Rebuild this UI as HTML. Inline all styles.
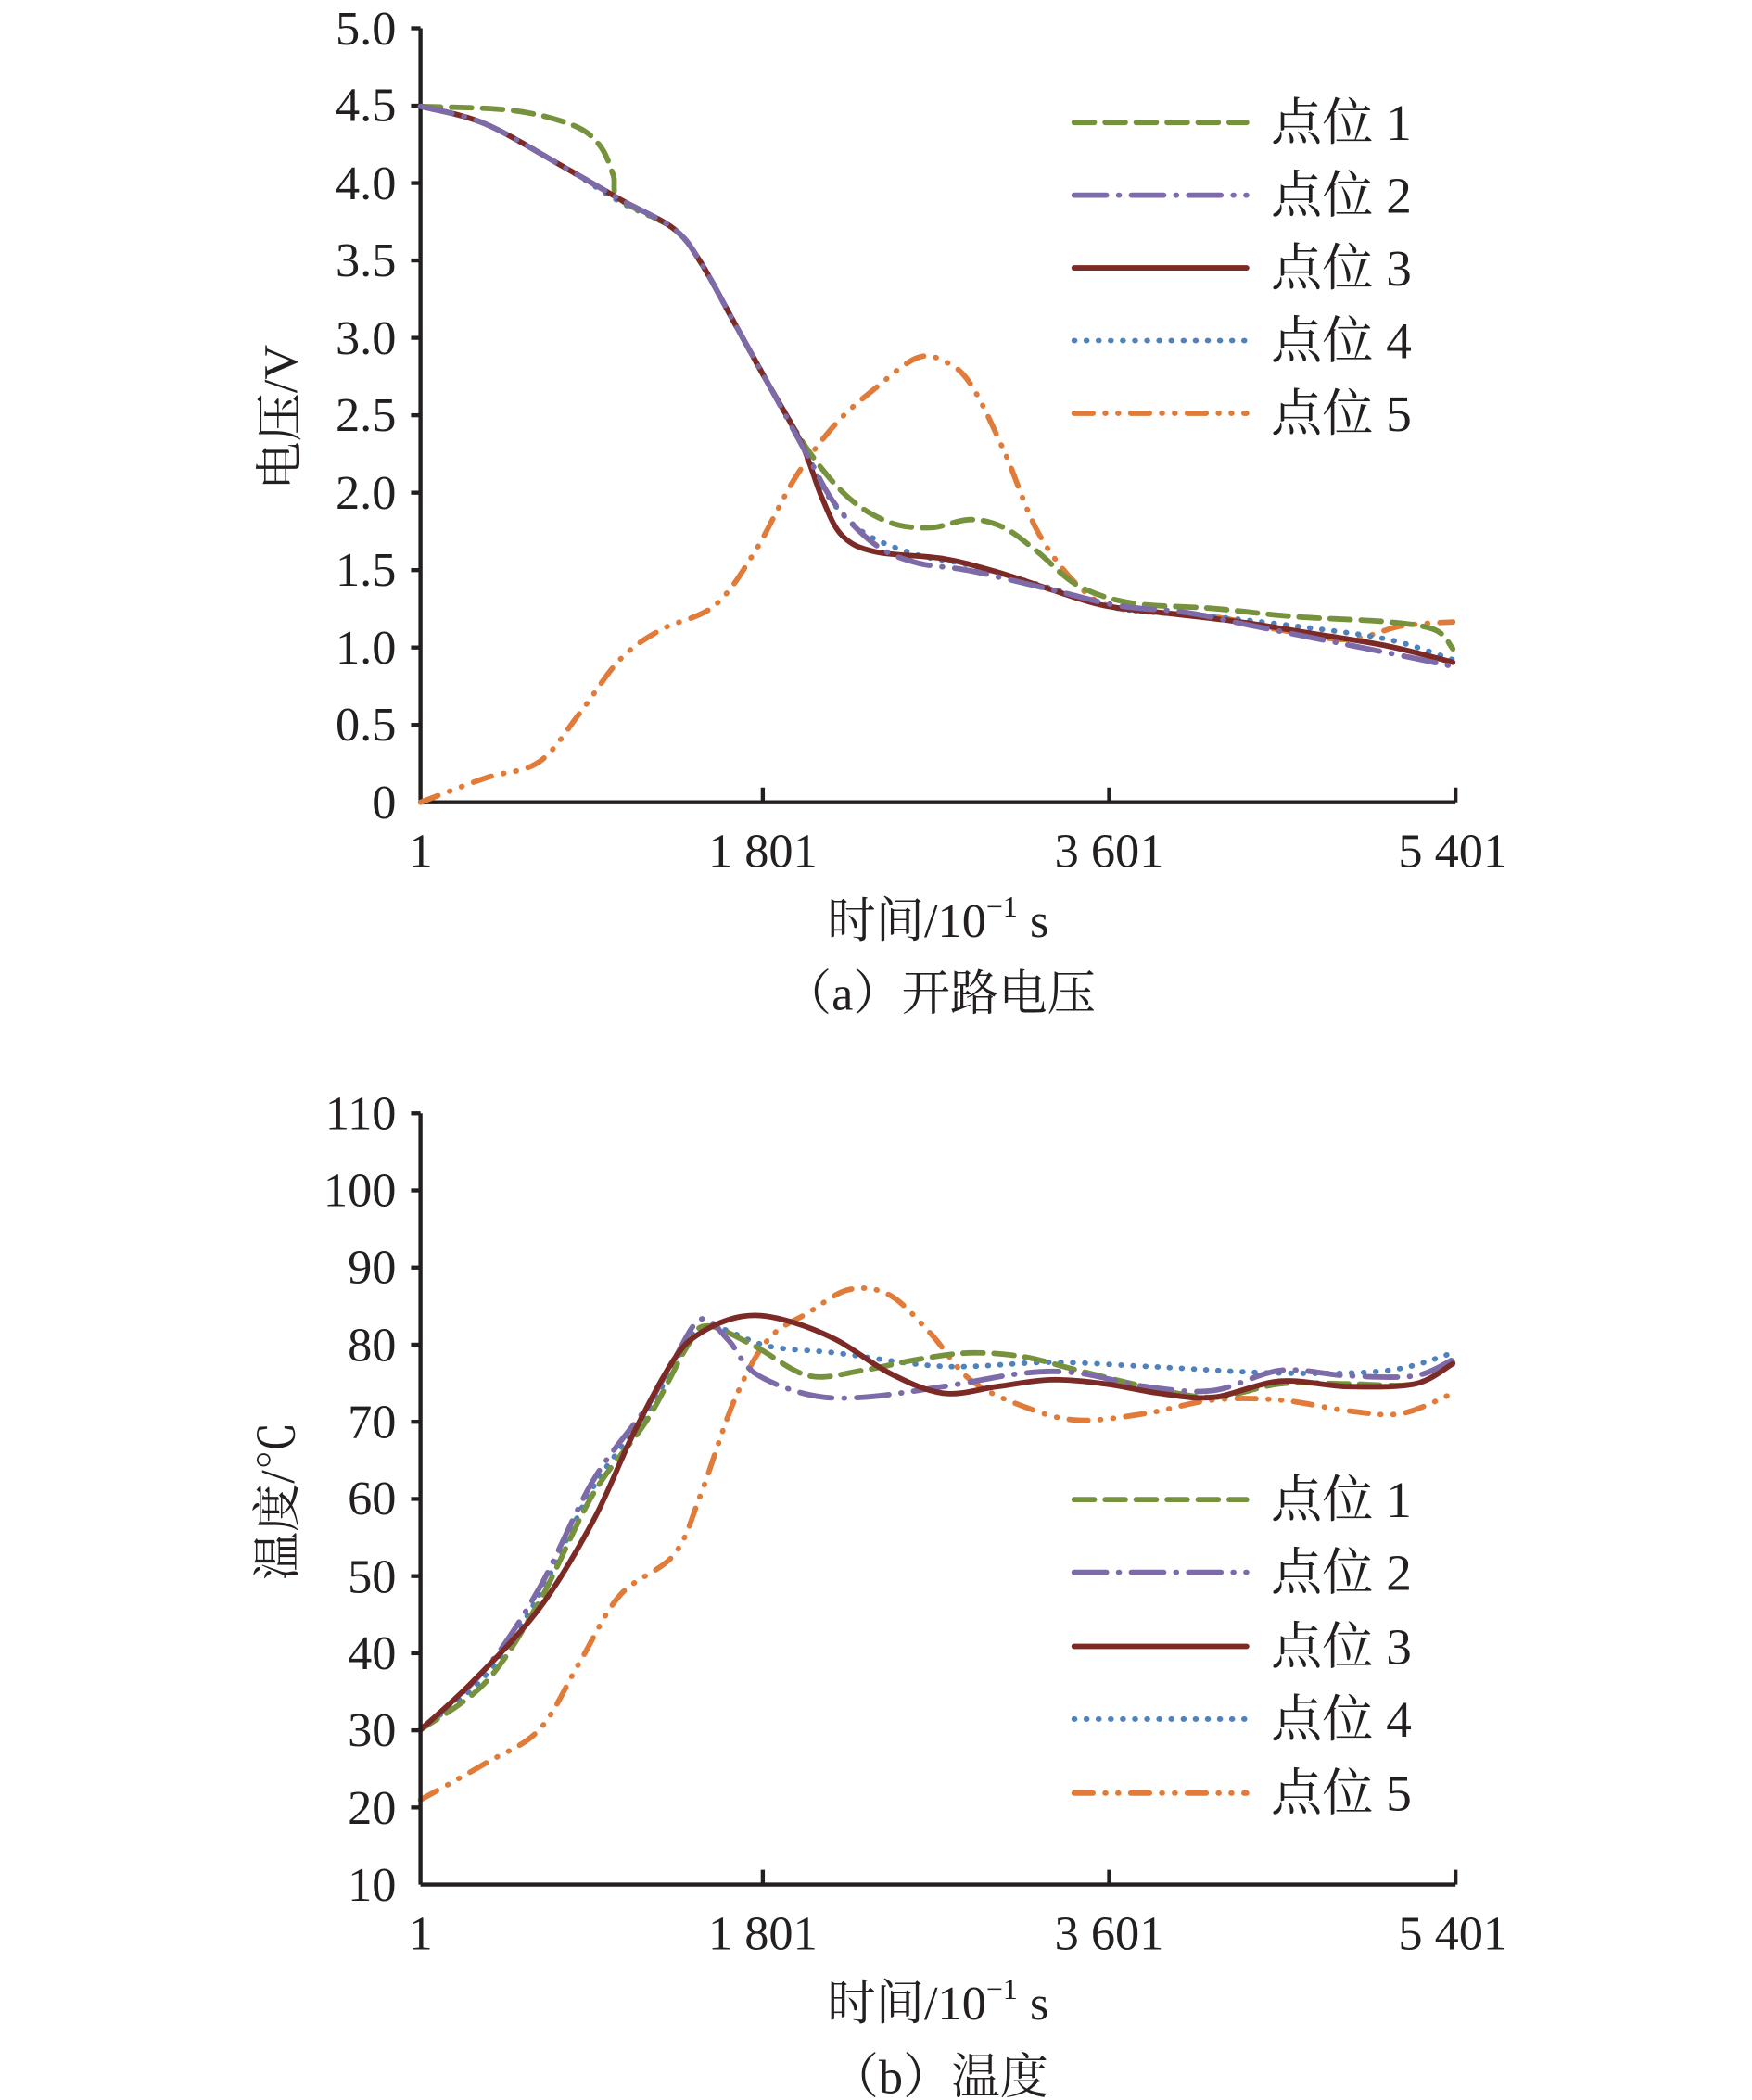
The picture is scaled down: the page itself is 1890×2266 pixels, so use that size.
<!DOCTYPE html>
<html><head><meta charset="utf-8"><style>
html,body{margin:0;padding:0;background:#fff;}
svg{display:block;}
text{font-family:"Liberation Serif","Noto Serif CJK SC",serif;fill:#231f20;}
</style></head><body>
<svg id="sv" width="1890" height="2266" viewBox="0 0 1300 1560" preserveAspectRatio="none" xmlns="http://www.w3.org/2000/svg">
<defs>
<style>
.s{fill:none;stroke-width:4;stroke-linecap:round;stroke-linejoin:round;}
.g{stroke:#77923c;stroke-dasharray:15 8;}
.p{stroke:#7d6aa8;stroke-dasharray:24 9 0.5 9;}
.r{stroke:#7b2a26;}
.b{stroke:#4f81bd;stroke-dasharray:0.5 8.5;}
.o{stroke:#e07b39;stroke-dasharray:14 9 0.5 9 0.5 9;}
.ax{stroke:#231f20;stroke-width:3;fill:none;}
.tk{font-size:36px;}
.lg{font-size:38px;}
</style>
</defs>

<!-- Chart A -->
<g class="ax">
<line x1="312" y1="21" x2="312" y2="596"/>
<line x1="312" y1="596" x2="1080" y2="596"/>
<line x1="305" y1="21" x2="312" y2="21"/><line x1="305" y1="78.5" x2="312" y2="78.5"/><line x1="305" y1="136" x2="312" y2="136"/><line x1="305" y1="193.5" x2="312" y2="193.5"/><line x1="305" y1="251" x2="312" y2="251"/><line x1="305" y1="308.5" x2="312" y2="308.5"/><line x1="305" y1="366" x2="312" y2="366"/><line x1="305" y1="423.5" x2="312" y2="423.5"/><line x1="305" y1="481" x2="312" y2="481"/><line x1="305" y1="538.5" x2="312" y2="538.5"/>
<line x1="566" y1="585" x2="566" y2="596"/><line x1="823" y1="585" x2="823" y2="596"/><line x1="1080" y1="585" x2="1080" y2="596"/>
</g>
<g class="tk" text-anchor="end">
<text x="294" y="33">5.0</text><text x="294" y="90">4.5</text><text x="294" y="148">4.0</text><text x="294" y="205">3.5</text><text x="294" y="263">3.0</text><text x="294" y="320">2.5</text><text x="294" y="378">2.0</text><text x="294" y="435">1.5</text><text x="294" y="493">1.0</text><text x="294" y="550">0.5</text><text x="294" y="608">0</text>
</g>
<g class="tk" text-anchor="middle">
<text x="312" y="644">1</text><text x="566" y="644">1 801</text><text x="823" y="644">3 601</text><text x="1078" y="644">5 401</text>
<text x="696" y="696">时间/10<tspan font-size="22" dy="-15">−1</tspan><tspan dy="15"> s</tspan></text>
<text x="697" y="750">（a）开路电压</text>
</g>
<text class="tk" text-anchor="middle" transform="translate(220,310) rotate(-90)">电压/V</text>

<g id="series">
<polyline class="s o" points="312,596 360,578 400,566 430,530 460,490 490,468 530,450 560,410 590,355 620,315 650,288 680,266 700,268 720,285 745,335 770,395 800,435 830,452 900,458 950,468 1000,475 1040,465 1078,462"/>
<polyline class="s b" points="312,79 360,92 420,125 460,150 500,170 520,195 545,240 570,285 595,328 612,365 640,395 680,412 720,420 780,437 830,452 900,458 960,465 1030,475 1078,490"/>
<polyline class="s g" points="312,79 380,82 425,93 445,108 455,130 460,148 500,170 520,195 545,240 570,285 600,335 630,370 660,388 690,392 720,386 745,392 770,410 800,435 840,448 900,452 960,458 1030,462 1065,468 1078,482"/>
<polyline class="s r" points="312,79 360,92 420,125 460,148 500,170 520,195 545,240 570,285 595,330 610,370 625,398 650,410 700,415 740,425 780,438 820,450 870,456 920,462 970,470 1030,480 1078,492"/>
<polyline class="s p" points="312,79 360,92 420,125 460,148 500,170 520,195 545,240 570,285 600,340 620,375 650,405 680,418 720,424 780,438 830,450 880,455 930,465 980,475 1030,485 1078,495"/>

<polyline class="s o" points="312,1337 360,1310 400,1285 430,1235 460,1185 500,1155 520,1110 545,1040 570,995 600,975 630,958 660,962 690,990 720,1025 760,1045 800,1055 850,1050 900,1040 950,1040 1000,1048 1040,1050 1078,1035"/>
<polyline class="s b" points="312,1285 360,1245 400,1185 440,1105 480,1050 505,1005 525,985 570,1000 620,1005 700,1015 780,1012 850,1015 950,1020 1030,1018 1078,1005"/>
<polyline class="s g" points="312,1285 360,1250 400,1190 440,1110 480,1055 510,1000 525,985 560,1000 600,1022 640,1018 680,1010 720,1005 760,1008 800,1018 850,1030 900,1038 950,1028 1000,1028 1050,1028 1078,1012"/>
<polyline class="s p" points="312,1285 360,1240 400,1180 440,1100 480,1045 500,1010 520,980 540,995 560,1020 600,1036 640,1038 700,1030 760,1020 800,1020 850,1030 900,1033 950,1018 1000,1022 1050,1022 1078,1010"/>
<polyline class="s r" points="312,1285 350,1250 400,1195 440,1130 470,1065 500,1010 520,990 550,978 580,980 620,995 660,1020 700,1035 740,1030 780,1025 820,1028 860,1035 900,1038 950,1026 1000,1030 1050,1028 1078,1013"/>
</g>

<g class="lg">
<line class="s g" x1="797" y1="91" x2="925" y2="91"/><text x="943" y="104">点位 1</text>
<line class="s p" x1="797" y1="145" x2="925" y2="145"/><text x="943" y="158">点位 2</text>
<line class="s r" x1="797" y1="199" x2="925" y2="199"/><text x="943" y="212">点位 3</text>
<line class="s b" x1="797" y1="253" x2="925" y2="253"/><text x="943" y="266">点位 4</text>
<line class="s o" x1="797" y1="307" x2="925" y2="307"/><text x="943" y="320">点位 5</text>
</g>

<!-- Chart B -->
<g class="ax">
<line x1="312" y1="827" x2="312" y2="1400"/>
<line x1="312" y1="1400" x2="1080" y2="1400"/>
<line x1="305" y1="827" x2="312" y2="827"/><line x1="305" y1="884.3" x2="312" y2="884.3"/><line x1="305" y1="941.6" x2="312" y2="941.6"/><line x1="305" y1="998.9" x2="312" y2="998.9"/><line x1="305" y1="1056.2" x2="312" y2="1056.2"/><line x1="305" y1="1113.5" x2="312" y2="1113.5"/><line x1="305" y1="1170.8" x2="312" y2="1170.8"/><line x1="305" y1="1228.1" x2="312" y2="1228.1"/><line x1="305" y1="1285.4" x2="312" y2="1285.4"/><line x1="305" y1="1342.7" x2="312" y2="1342.7"/>
<line x1="566" y1="1389" x2="566" y2="1400"/><line x1="823" y1="1389" x2="823" y2="1400"/><line x1="1080" y1="1389" x2="1080" y2="1400"/>
</g>
<g class="tk" text-anchor="end">
<text x="294" y="839">110</text><text x="294" y="896">100</text><text x="294" y="953">90</text><text x="294" y="1011">80</text><text x="294" y="1068">70</text><text x="294" y="1125">60</text><text x="294" y="1183">50</text><text x="294" y="1240">40</text><text x="294" y="1297">30</text><text x="294" y="1355">20</text><text x="294" y="1412">10</text>
</g>
<g class="tk" text-anchor="middle">
<text x="312" y="1448">1</text><text x="566" y="1448">1 801</text><text x="823" y="1448">3 601</text><text x="1078" y="1448">5 401</text>
<text x="696" y="1500">时间/10<tspan font-size="22" dy="-15">−1</tspan><tspan dy="15"> s</tspan></text>
<text x="697" y="1555">（b）温度</text>
</g>
<text class="tk" text-anchor="middle" transform="translate(218,1115) rotate(-90)">温度/℃</text>

<g class="lg">
<line class="s g" x1="797" y1="1114" x2="925" y2="1114"/><text x="943" y="1127">点位 1</text>
<line class="s p" x1="797" y1="1168" x2="925" y2="1168"/><text x="943" y="1181">点位 2</text>
<line class="s r" x1="797" y1="1223" x2="925" y2="1223"/><text x="943" y="1236">点位 3</text>
<line class="s b" x1="797" y1="1277" x2="925" y2="1277"/><text x="943" y="1290">点位 4</text>
<line class="s o" x1="797" y1="1332" x2="925" y2="1332"/><text x="943" y="1345">点位 5</text>
</g>
</svg>
<script>
(function(){
var NS="http://www.w3.org/2000/svg";
var pls=document.querySelectorAll('#series polyline');
pls.forEach(function(pl){
  var pts=pl.getAttribute('points').trim().split(/\s+/).map(function(s){var a=s.split(',');return [+a[0],+a[1]];});
  var d='M'+pts[0][0]+','+pts[0][1];
  for(var i=0;i<pts.length-1;i++){
    var p0=pts[i-1]||pts[i],p1=pts[i],p2=pts[i+1],p3=pts[i+2]||p2;
    var c1=[p1[0]+(p2[0]-p0[0])/6,p1[1]+(p2[1]-p0[1])/6];
    var c2=[p2[0]-(p3[0]-p1[0])/6,p2[1]-(p3[1]-p1[1])/6];
    d+=' C'+c1[0].toFixed(1)+','+c1[1].toFixed(1)+' '+c2[0].toFixed(1)+','+c2[1].toFixed(1)+' '+p2[0]+','+p2[1];
  }
  var p=document.createElementNS(NS,'path');
  p.setAttribute('d',d);p.setAttribute('class',pl.getAttribute('class'));
  pl.parentNode.replaceChild(p,pl);
});
})();
</script>
</body></html>
